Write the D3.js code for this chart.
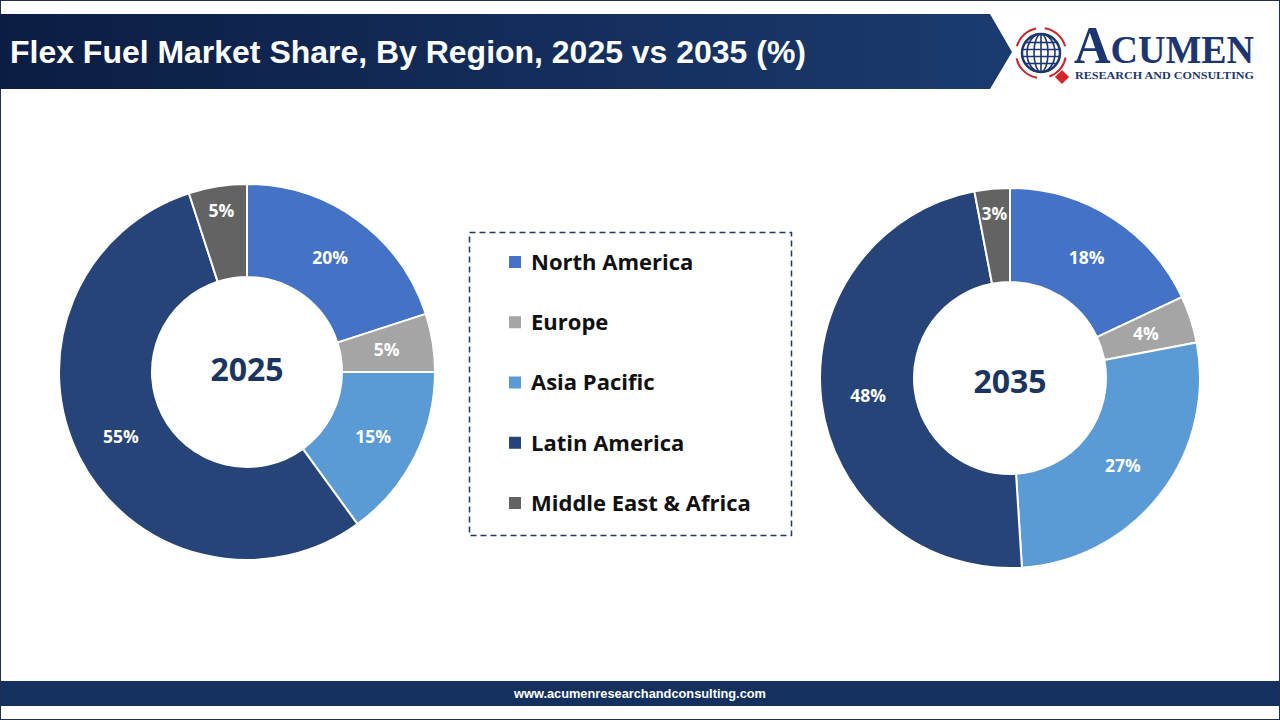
<!DOCTYPE html>
<html><head><meta charset="utf-8">
<script src="https://cdn.jsdelivr.net/npm/d3@7"></script>
<style>
html,body{margin:0;padding:0;background:#fff;}
svg{display:block;}
</style></head>
<body>
<svg id="chart" width="1280" height="720"></svg>
<script>
const title = "Flex Fuel Market Share, By Region, 2025 vs 2035 (%)";
const regions = ["North America","Europe","Asia Pacific","Latin America","Middle East & Africa"];
const colors = ["#4472C4","#A5A5A5","#5B9BD5","#264478","#636363"];
const years = ["2025","2035"];
const share2025 = [20,5,15,55,5];
const share2035 = [18,4,27,48,3];
const footerText = "www.acumenresearchandconsulting.com";

const svg = d3.select("#chart");
const defs = svg.append("defs");
const grad = defs.append("linearGradient").attr("id","bannerGrad").attr("x1","0").attr("x2","1").attr("y1","0").attr("y2","0");
grad.append("stop").attr("offset","0%").attr("stop-color","#0b1d43");
grad.append("stop").attr("offset","100%").attr("stop-color","#1b3b6f");

// outer border
svg.append("rect").attr("x",0.5).attr("y",0.5).attr("width",1279).attr("height",719)
  .attr("fill","none").attr("stroke","#1f3050").attr("stroke-width",1);

// banner
svg.append("path").attr("d","M0,14 L990,14 L1012,52 L990,89 L0,89 Z").attr("fill","url(#bannerGrad)");
svg.append("text").attr("x",10).attr("y",63).text(title)
  .attr("fill","#fff").attr("font-family","Liberation Sans, Arial, sans-serif")
  .attr("font-weight","bold").attr("font-size",32)
  .attr("textLength",796).attr("lengthAdjust","spacingAndGlyphs");

// logo
const logo = svg.append("g");
const gx=1041, gy=53;
logo.append("circle").attr("cx",gx).attr("cy",gy).attr("r",19).attr("fill","#fff").attr("stroke","#1d3670").attr("stroke-width",2.5);
[-12,-5,2,9].forEach(dy=>{
  const yy=gy+dy+1.5; const half=Math.sqrt(Math.max(0,19*19-(yy-gy)*(yy-gy)));
  logo.append("line").attr("x1",gx-half).attr("x2",gx+half).attr("y1",yy).attr("y2",yy).attr("stroke","#1d3670").attr("stroke-width",1.6);
});
[7,14].forEach(rx=>logo.append("ellipse").attr("cx",gx).attr("cy",gy).attr("rx",rx).attr("ry",19).attr("fill","none").attr("stroke","#1d3670").attr("stroke-width",1.6));
logo.append("line").attr("x1",gx).attr("x2",gx).attr("y1",gy-19).attr("y2",gy+19).attr("stroke","#1d3670").attr("stroke-width",1.6);
const arcR = d3.arc().innerRadius(24).outerRadius(26);
[[-1.3,-0.2],[0.15,1.3],[1.75,2.8],[3.3,4.5]].forEach(a=>{
  logo.append("path").attr("transform",`translate(${gx},${gy})`).attr("d",arcR({startAngle:a[0],endAngle:a[1]})).attr("fill","#c8282d");
});
logo.append("rect").attr("x",-5).attr("y",-5).attr("width",10).attr("height",10).attr("fill","#d0262c")
  .attr("transform",`translate(${gx+21},${gy+24}) rotate(45)`);
logo.append("text").attr("x",1074).attr("y",63).attr("fill","#1d3670")
  .attr("font-family","Liberation Serif, Times New Roman, serif").attr("font-weight","bold")
  .attr("textLength",180).attr("lengthAdjust","spacingAndGlyphs")
  .html('<tspan font-size="52">A</tspan><tspan font-size="39">CUMEN</tspan>');
logo.append("text").attr("x",1075).attr("y",79).attr("fill","#1d3670")
  .attr("font-family","Liberation Serif, Times New Roman, serif").attr("font-weight","bold")
  .attr("font-size",11).attr("textLength",179).attr("lengthAdjust","spacingAndGlyphs")
  .text("RESEARCH AND CONSULTING");

// footer
svg.append("rect").attr("x",1).attr("y",681).attr("width",1278).attr("height",25).attr("fill","#14305e");
svg.append("text").attr("x",640).attr("y",698).attr("text-anchor","middle").text(footerText)
  .attr("fill","#fff").attr("font-family","Liberation Sans, Arial, sans-serif")
  .attr("font-weight","bold").attr("font-size",12.8);

// donuts
const pie = d3.pie().sort(null).value(d=>d);
function donut(values, cx, cy, rOuter, rInner, label, labelDy){
  const g = svg.append("g").attr("transform",`translate(${cx},${cy})`);
  const arc = d3.arc().innerRadius(rInner).outerRadius(rOuter);
  const mid = (rInner+rOuter)/2;
  const arcs = pie(values);
  g.selectAll("path.slice").data(arcs).join("path").attr("class","slice")
    .attr("d",arc).attr("fill",(d,i)=>colors[i]).attr("stroke","#fff").attr("stroke-width",2);
  // narrow slices near the top get their label pushed outward
  const labR = d => {
    const a = (d.startAngle+d.endAngle)/2;
    return (d.endAngle-d.startAngle < 0.4 && Math.cos(a) > 0.9) ? rOuter*0.87 : mid;
  };
  g.selectAll("text.pct").data(arcs).join("text").attr("class","pct")
    .attr("transform",d=>{
      const r=labR(d);
      const c=d3.arc().innerRadius(r).outerRadius(r).centroid(d);
      return `translate(${c[0]},${c[1]})`;})
    .attr("text-anchor","middle").attr("dy","0.36em")
    .attr("fill","#fff").attr("font-family","Open Sans, Noto Sans, sans-serif")
    .attr("font-weight","bold").attr("font-size",17.5)
    .text(d=>d.data+"%");
  g.append("text").attr("text-anchor","middle").attr("y",labelDy).attr("dy","0.36em")
    .attr("fill","#1c3560").attr("font-family","Open Sans, Noto Sans, sans-serif")
    .attr("font-weight","bold").attr("font-size",32).text(label);
}
donut(share2025, 247, 372, 188, 95, years[0], -3);
donut(share2035, 1010, 378, 190, 96, years[1], 3);

// legend
svg.append("rect").attr("x",469.5).attr("y",232.5).attr("width",322).attr("height",303)
  .attr("fill","none").attr("stroke","#1f3864").attr("stroke-width",1.5).attr("stroke-dasharray","6,4");
const lg = svg.append("g");
const ly = d3.scalePoint().domain(regions).range([262,503]);
regions.forEach((r,i)=>{
  lg.append("rect").attr("x",509).attr("y",ly(r)-6).attr("width",12).attr("height",12).attr("fill",colors[i]);
  lg.append("text").attr("x",531).attr("y",ly(r)).attr("dy","0.36em").text(r)
    .attr("fill","#111").attr("font-family","Open Sans, Noto Sans, sans-serif")
    .attr("font-weight","bold").attr("font-size",22);
});
</script>
</body></html>
